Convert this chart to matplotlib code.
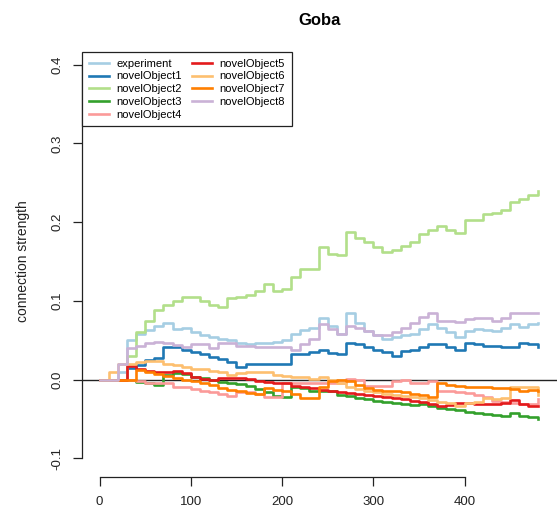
import numpy as np
import matplotlib
matplotlib.use("Agg")
import matplotlib.pyplot as plt

plt.rcParams['font.family'] = ['Liberation Sans', 'DejaVu Sans']

# time steps (every 10 trials)
trials = np.arange(0, 481, 10)

experiment = [0.0, 0.0, 0.010, 0.050, 0.058, 0.063, 0.068, 0.072, 0.064, 0.066,
              0.060, 0.057, 0.054, 0.052, 0.050, 0.046, 0.045, 0.047, 0.047, 0.048,
              0.050, 0.058, 0.063, 0.066, 0.078, 0.068, 0.058, 0.084, 0.072, 0.062,
              0.056, 0.052, 0.054, 0.056, 0.058, 0.064, 0.070, 0.066, 0.060, 0.054,
              0.062, 0.064, 0.063, 0.062, 0.066, 0.071, 0.067, 0.070, 0.072]
novel1 = [0.0, 0.0, 0.0, 0.015, 0.018, 0.025, 0.027, 0.041, 0.041, 0.038,
          0.035, 0.032, 0.029, 0.026, 0.022, 0.016, 0.020, 0.020, 0.020, 0.020,
          0.020, 0.033, 0.033, 0.035, 0.038, 0.034, 0.033, 0.047, 0.045, 0.042,
          0.038, 0.035, 0.030, 0.036, 0.038, 0.041, 0.045, 0.045, 0.042, 0.038,
          0.046, 0.045, 0.043, 0.043, 0.042, 0.041, 0.046, 0.045, 0.041]
novel2 = [0.0, 0.0, 0.0, 0.030, 0.060, 0.075, 0.088, 0.095, 0.100, 0.105,
          0.105, 0.100, 0.095, 0.092, 0.103, 0.105, 0.108, 0.112, 0.122, 0.112,
          0.115, 0.130, 0.140, 0.140, 0.168, 0.160, 0.158, 0.188, 0.180, 0.175,
          0.168, 0.162, 0.165, 0.170, 0.175, 0.185, 0.190, 0.195, 0.190, 0.186,
          0.203, 0.203, 0.210, 0.212, 0.216, 0.226, 0.230, 0.234, 0.239]
novel3 = [0.0, 0.0, 0.0, 0.0, -0.003, -0.005, -0.007, 0.006, 0.008, 0.007,
          0.003, 0.002, -0.001, -0.003, -0.005, -0.006, -0.008, -0.012, -0.016, -0.021,
          -0.022, -0.010, -0.011, -0.015, -0.014, -0.015, -0.019, -0.021, -0.023, -0.025,
          -0.027, -0.029, -0.030, -0.031, -0.032, -0.031, -0.033, -0.036, -0.038, -0.039,
          -0.041, -0.043, -0.044, -0.045, -0.046, -0.043, -0.046, -0.047, -0.050]
novel4 = [0.0, 0.0, 0.0, 0.0, -0.002, -0.004, -0.004, -0.005, -0.010, -0.010,
          -0.012, -0.015, -0.016, -0.018, -0.021, -0.016, -0.016, -0.018, -0.022, -0.022,
          -0.004, -0.005, -0.005, -0.005, -0.005, -0.005, -0.005, 0.001, 0.0, -0.008,
          -0.008, -0.008, -0.002, -0.001, -0.005, -0.005, -0.002, -0.014, -0.015, -0.016,
          -0.017, -0.019, -0.022, -0.027, -0.029, -0.030, -0.031, -0.031, -0.025]
novel5 = [0.0, 0.0, 0.0, 0.017, 0.014, 0.011, 0.009, 0.010, 0.011, 0.008,
          0.003, 0.001, 0.0, 0.002, 0.002, 0.002, 0.001, -0.002, -0.003, -0.004,
          -0.005, -0.008, -0.009, -0.011, -0.013, -0.014, -0.016, -0.017, -0.018, -0.020,
          -0.021, -0.022, -0.023, -0.025, -0.027, -0.029, -0.031, -0.033, -0.032, -0.030,
          -0.030, -0.031, -0.031, -0.031, -0.030, -0.026, -0.031, -0.033, -0.034]
novel6 = [0.0, 0.010, 0.020, 0.020, 0.022, 0.024, 0.023, 0.020, 0.018, 0.016,
          0.014, 0.013, 0.011, 0.009, 0.006, 0.008, 0.010, 0.010, 0.009, 0.006,
          0.004, 0.003, 0.003, 0.001, 0.003, 0.0, -0.005, -0.010, -0.012, -0.014,
          -0.016, -0.018, -0.020, -0.021, -0.022, -0.024, -0.026, -0.028, -0.030, -0.034,
          -0.030, -0.029, -0.024, -0.025, -0.024, -0.009, -0.009, -0.009, -0.020]
novel7 = [0.0, 0.0, 0.0, 0.0, 0.012, 0.010, 0.007, 0.005, 0.002, -0.001,
          -0.002, -0.004, -0.007, -0.011, -0.013, -0.015, -0.017, -0.018, -0.011, -0.013,
          -0.015, -0.018, -0.023, -0.024, -0.010, -0.002, -0.001, -0.002, -0.007, -0.011,
          -0.013, -0.014, -0.015, -0.016, -0.018, -0.020, -0.022, -0.005, -0.007, -0.008,
          -0.009, -0.010, -0.010, -0.011, -0.011, -0.012, -0.014, -0.013, -0.014]
novel8 = [0.0, 0.0, 0.020, 0.040, 0.043, 0.046, 0.048, 0.047, 0.044, 0.041,
          0.045, 0.045, 0.040, 0.047, 0.047, 0.043, 0.043, 0.042, 0.042, 0.041,
          0.041, 0.037, 0.045, 0.052, 0.070, 0.064, 0.058, 0.068, 0.066, 0.062,
          0.056, 0.056, 0.061, 0.066, 0.072, 0.079, 0.084, 0.074, 0.075, 0.073,
          0.077, 0.078, 0.078, 0.074, 0.078, 0.085, 0.084, 0.085, 0.085]

series = [experiment, novel1, novel2, novel3, novel4, novel5, novel6, novel7, novel8]
labels = ["experiment", "novelObject1", "novelObject2", "novelObject3", "novelObject4",
          "novelObject5", "novelObject6", "novelObject7", "novelObject8"]
# RColorBrewer "Paired"
colors = ["#A6CEE3", "#1F78B4", "#B2DF8A", "#33A02C", "#FB9A99",
          "#E31A1C", "#FDBF6F", "#FF7F00", "#CAB2D6"]

fig = plt.figure(figsize=(5.57, 5.11), dpi=100)
ax = fig.add_axes([82 / 557, 37 / 511, 475 / 557, 425 / 511])

ax.axhline(0, color="#222222", lw=1, zorder=1)
for vals, lab, col in zip(series, labels, colors):
    ax.plot(trials, vals, drawstyle="steps-post", color=col, lw=1.9, label=lab, zorder=2)

ax.set_xlim(-19.3, 501.3)
ax.set_ylim(-0.12, 0.42)

# base-R style axes: only the tick range is drawn
for s in ["top", "right"]:
    ax.spines[s].set_visible(False)
ax.spines["left"].set_bounds(-0.1, 0.4)
ax.spines["bottom"].set_bounds(0, 400)
ax.spines["bottom"].set_position(("outward", 2))
for s in ["left", "bottom"]:
    ax.spines[s].set_color("#222222")
    ax.spines[s].set_linewidth(0.9)

ax.set_xticks([0, 100, 200, 300, 400])
ax.set_yticks([-0.1, 0.0, 0.1, 0.2, 0.3, 0.4])
ax.set_yticklabels(["-0.1", "0.0", "0.1", "0.2", "0.3", "0.4"], rotation=90, va="center")
ax.tick_params(axis="both", direction="out", length=6.5, width=0.9, color="#222222",
               labelsize=9.5, labelcolor="#222222")
ax.tick_params(axis="x", pad=7)
ax.tick_params(axis="y", pad=7)

ax.set_ylabel("connection strength", fontsize=10, color="#222222", labelpad=15)
ax.set_title("Goba", fontsize=12, fontweight="bold", pad=17)

leg = ax.legend(loc="upper left", bbox_to_anchor=(0, 1 - 3 / 425), borderaxespad=0,
                ncol=2, fontsize=8, handlelength=1.8, handletextpad=0.7,
                columnspacing=0.9, labelspacing=0.25, borderpad=0.6,
                frameon=True, fancybox=False, framealpha=1)
leg.get_frame().set_edgecolor("#222222")
leg.get_frame().set_linewidth(0.9)

fig.savefig("out.png", dpi=100)
